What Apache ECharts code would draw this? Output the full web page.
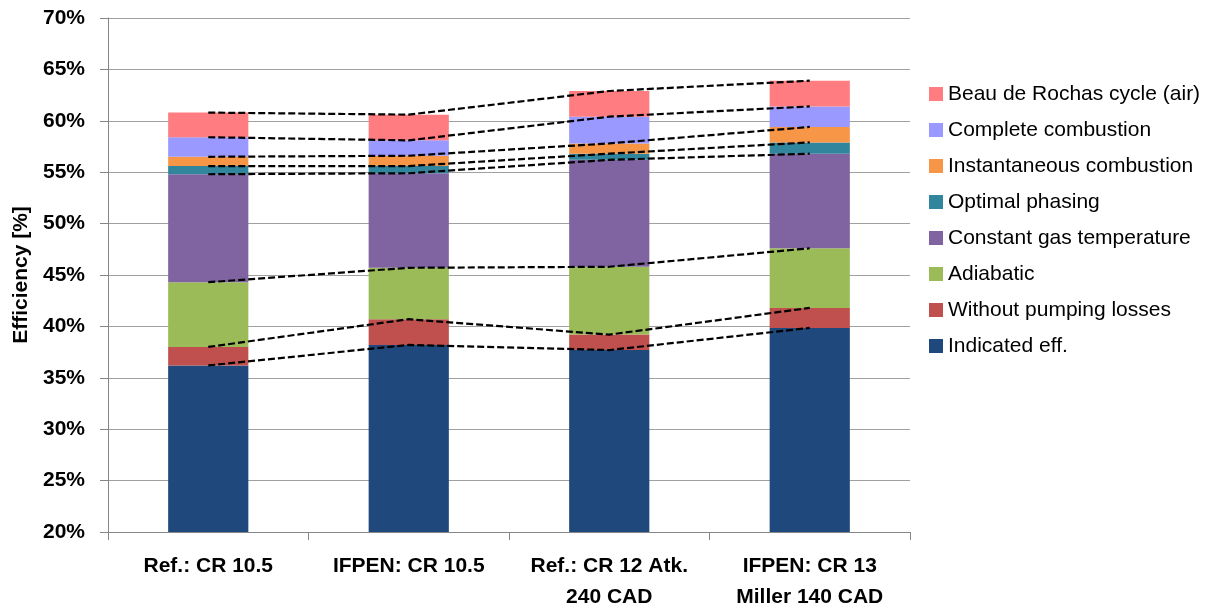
<!DOCTYPE html>
<html>
<head>
<meta charset="utf-8">
<script src="https://cdn.jsdelivr.net/npm/echarts@6/dist/echarts.min.js"></script>
<style>
html, body { margin: 0; padding: 0; background: #fff; }
#chart { width: 1212px; height: 609px; }
</style>
</head>
<body>
<div id="chart"></div>
<script>
// efficiency breakdown, each level is the cumulative efficiency [%]
const categories = ['Ref.: CR 10.5', 'IFPEN: CR 10.5', 'Ref.: CR 12 Atk.\n240 CAD', 'IFPEN: CR 13\nMiller 140 CAD'];
const stepNames = ['Indicated eff.', 'Without pumping losses', 'Adiabatic', 'Constant gas temperature',
  'Optimal phasing', 'Instantaneous combustion', 'Complete combustion', 'Beau de Rochas cycle (air)'];
const stepColors = ['#1F497D', '#C0504D', '#9BBB59', '#8064A2', '#31859C', '#F79646', '#9999FF', '#FF7C80'];

const indicated      = [36.2, 38.2, 37.7, 39.85];
const noPumping      = [38.0, 40.7, 39.2, 41.8];
const adiabatic      = [44.3, 45.7, 45.8, 47.6];
const constGasTemp   = [54.8, 54.9, 56.2, 56.8];
const optimalPhasing = [55.6, 55.6, 56.8, 57.9];
const instantComb    = [56.5, 56.6, 57.8, 59.4];
const completeComb   = [58.4, 58.1, 60.4, 61.4];
const beauDeRochas   = [60.8, 60.6, 62.9, 63.9];

const yTicks = { min: 20, max: 70, interval: 5 };

const levels = [indicated, noPumping, adiabatic, constGasTemp, optimalPhasing, instantComb, completeComb, beauDeRochas];

let series = [];
// stacked bars: segment = difference between two levels
levels.forEach((lv, i) => {
  series.push({
    name: stepNames[i],
    type: 'bar',
    stack: 'eff',
    barWidth: '40%',
    itemStyle: { color: stepColors[i] },
    data: lv.map((v, j) => i == 0 ? v : +(v - levels[i - 1][j]).toFixed(2))
  });
});
// dashed lines joining the levels from bar to bar
levels.forEach((lv, i) => {
  series.push({
    name: 'line' + i,
    type: 'line',
    data: lv,
    symbol: 'none',
    z: 10,
    lineStyle: { color: '#000', width: 2.2, type: [7, 3] },
    silent: true
  });
});

const font = 'Liberation Sans';
const chart = echarts.init(document.getElementById('chart'));
chart.setOption({
  animation: false,
  grid: { left: 108, right: 302, top: 18, bottom: 77, outerBoundsMode: 'none' },
  legend: {
    orient: 'vertical',
    left: 924,
    top: 77,
    data: stepNames.slice().reverse(),
    icon: 'rect',
    itemWidth: 14,
    itemHeight: 14,
    itemGap: 12,
    textStyle: { fontFamily: font, fontSize: 21, lineHeight: 24, color: '#000' }
  },
  xAxis: {
    type: 'category',
    data: categories,
    axisLine: { lineStyle: { color: '#868686' } },
    axisTick: { show: true, interval: 0, length: 8, lineStyle: { color: '#868686' } },
    axisLabel: {
      interval: 0, hideOverlap: false,
      fontFamily: font, fontWeight: 'bold', fontSize: 21, lineHeight: 31,
      color: '#000', margin: 19
    }
  },
  yAxis: {
    type: 'value',
    min: yTicks.min,
    max: yTicks.max,
    interval: yTicks.interval,
    name: 'Efficiency [%]',
    nameLocation: 'middle',
    nameGap: 76,
    nameTextStyle: { fontFamily: font, fontWeight: 'bold', fontSize: 21, color: '#000' },
    axisLine: { show: true, lineStyle: { color: '#868686' } },
    axisTick: { show: true, length: 8, lineStyle: { color: '#868686' } },
    axisLabel: {
      formatter: '{value}%', fontFamily: font, fontWeight: 'bold', fontSize: 21,
      color: '#000', margin: 23
    },
    splitLine: { lineStyle: { color: '#A0A0A0', width: 1 } }
  },
  series: series
});
</script>
</body>
</html>
